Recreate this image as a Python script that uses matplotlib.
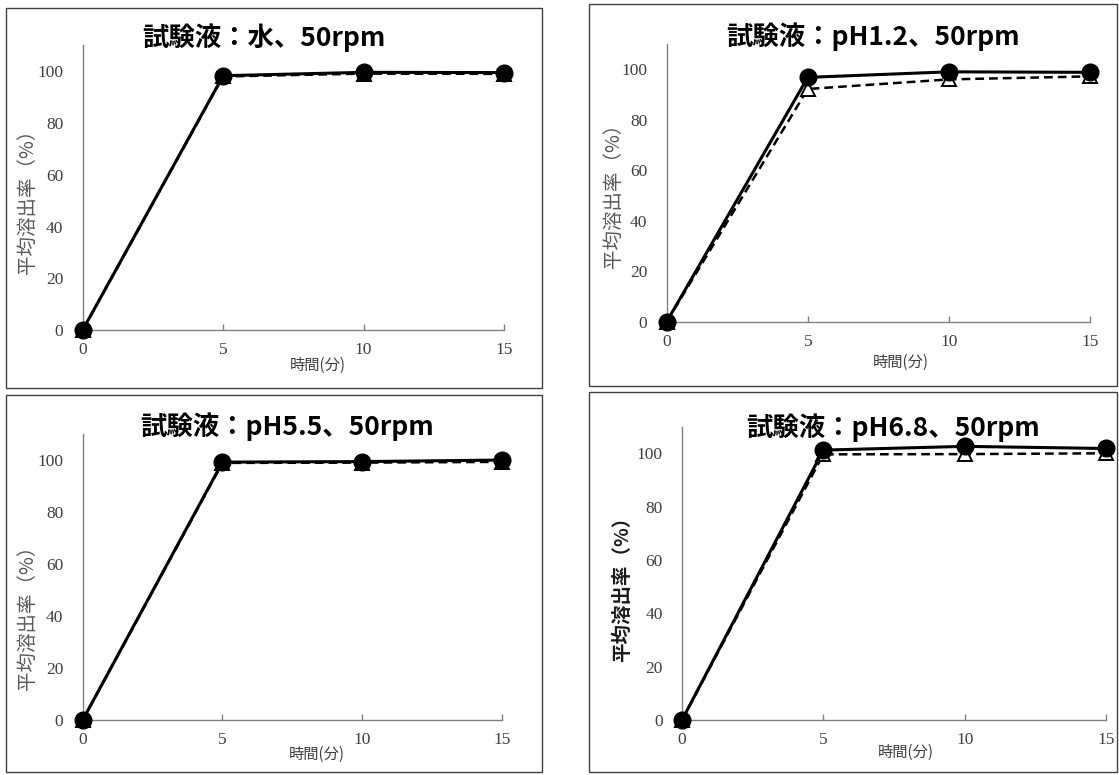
import matplotlib
matplotlib.use("Agg")
import matplotlib.pyplot as plt
from matplotlib.patches import Rectangle

plt.rcParams['font.family'] = ['Noto Sans CJK JP', 'DejaVu Sans']

W, H = 1119, 775

# --- data ---
times = [0, 5, 10, 15]
titles = ['試験液：水、50rpm', '試験液：pH1.2、50rpm', '試験液：pH5.5、50rpm', '試験液：pH6.8、50rpm']

# solid line / filled circles
circle_water = [0, 98.3, 99.6, 99.5]
circle_ph12 = [0, 96.8, 99.0, 98.8]
circle_ph55 = [0, 99.3, 99.5, 100.1]
circle_ph68 = [0, 101.2, 102.6, 101.8]

# dashed line / open triangles
triangle_water = [0, 98.0, 99.1, 99.0]
triangle_ph12 = [0, 92.2, 96.0, 97.2]
triangle_ph55 = [0, 99.0, 99.1, 99.4]
triangle_ph68 = [0, 99.6, 99.7, 100.0]

xticks = [0, 5, 10, 15]
yticks = [0, 20, 40, 60, 80, 100]
y_label = '平均溶出率（%）'
x_label = '時間(分)'

# --- layout (pixels) ---
# axes: x at 0, x at 15, y at 0, y at 100
axes_px = [
    (82.7, 504, 330, 71.3),
    (666.7, 1090, 321.7, 69.3),
    (82.7, 502, 720, 460.3),
    (682, 1106, 720, 453.3),
]
# frame boxes: left, top, right, bottom
boxes_px = [
    (6, 8, 542, 388),
    (589, 4, 1117, 386),
    (6, 395, 542, 772),
    (589, 392, 1117, 772),
]
title_px = [(264, 38), (873, 37), (287, 427), (893, 428)]
ylabel_px = [(27, 197), (613, 191), (27, 613), (622, 584)]
xlabel_px = [(318, 365), (901, 362), (317, 754), (906, 752)]

circles = [circle_water, circle_ph12, circle_ph55, circle_ph68]
triangles = [triangle_water, triangle_ph12, triangle_ph55, triangle_ph68]

fig = plt.figure(figsize=(W / 100, H / 100), dpi=100)
fig.patch.set_facecolor('white')


def fx(x):
    return x / W


def fy(y):
    return 1 - y / H


for i in range(4):
    bl, bt, br, bb = boxes_px[i]
    fig.patches.append(Rectangle((fx(bl), fy(bb)), (br - bl) / W, (bb - bt) / H,
                                 transform=fig.transFigure, fill=False,
                                 edgecolor='#404040', linewidth=1.0))

    x0, x15, y0, y100 = axes_px[i]
    per_unit = (y0 - y100) / 100.0
    top = y0 - 110 * per_unit
    ax = fig.add_axes([fx(x0), fy(y0), (x15 - x0) / W, (y0 - top) / H])
    ax.set_facecolor('none')

    ax.plot(times, triangles[i], color='black', linestyle=(0, (3.5, 2)), linewidth=1.8,
            marker='^', markersize=10.5, markerfacecolor='white', markeredgecolor='black',
            markeredgewidth=1.4, clip_on=False, zorder=3)
    ax.plot(times, circles[i], color='black', linestyle='-', linewidth=2.2,
            marker='o', markersize=12, markerfacecolor='black', markeredgecolor='black',
            clip_on=False, zorder=4)

    ax.set_xlim(0, 15)
    ax.set_ylim(0, 110)
    ax.set_xticks(xticks)
    ax.set_yticks(yticks)
    for side in ('top', 'right'):
        ax.spines[side].set_visible(False)
    for side in ('left', 'bottom'):
        ax.spines[side].set_color('#808080')
        ax.spines[side].set_linewidth(1.0)
    ax.tick_params(axis='x', direction='in', length=4, width=1.0, color='#808080',
                   pad=9, labelsize=12.5, labelcolor='#404040')
    ax.tick_params(axis='y', length=0, pad=14, labelsize=12.5, labelcolor='#404040')
    for lbl in ax.get_xticklabels() + ax.get_yticklabels():
        lbl.set_family('Liberation Serif')

    tx, ty = title_px[i]
    fig.text(fx(tx), fy(ty), titles[i], ha='center', va='center',
             fontsize=19, fontweight='bold', color='black')

    lx, ly = ylabel_px[i]
    if i == 3:
        fig.text(fx(lx), fy(ly), y_label, ha='center', va='center', rotation=90,
                 fontsize=14, fontweight='bold', color='#1a1a1a')
    else:
        fig.text(fx(lx), fy(ly), y_label, ha='center', va='center', rotation=90,
                 fontsize=14, color='#595959')

    xx, xy = xlabel_px[i]
    fig.text(fx(xx), fy(xy), x_label, ha='center', va='center',
             fontsize=11, color='#404040')

fig.savefig('out.png', dpi=100)
plt.close(fig)
